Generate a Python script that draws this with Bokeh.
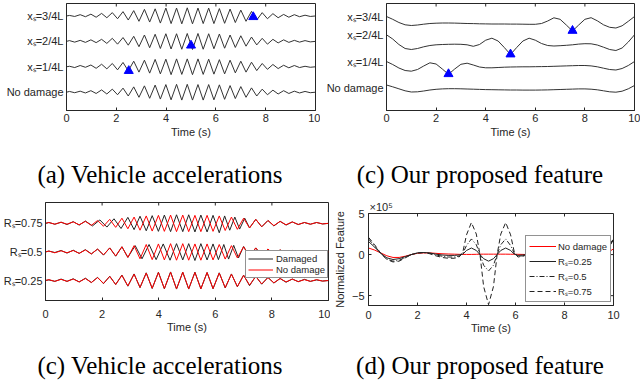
from bokeh.plotting import figure
from bokeh.models import Range1d, FixedTicker, Div, Legend, LegendItem
from bokeh.layouts import column, row
from bokeh.embed import file_html
from bokeh.resources import INLINE

# ---------------- data ----------------
X_TICKS = [0, 2, 4, 6, 8, 10]

# (a) vehicle accelerations, trace values relative to each row
TL_LABELS = ["No damage", "xₛ=1/4L", "xₛ=2/4L", "xₛ=3/4L"]
TL_T = [0.00, 0.12, 0.33, 0.55, 0.76, 0.98, 1.19, 1.41, 1.62, 1.84,
        2.05, 2.27, 2.48, 2.70, 2.91, 3.13, 3.34, 3.56, 3.77, 3.99,
        4.20, 4.42, 4.63, 4.85, 5.06, 5.28, 5.49, 5.71, 5.92, 6.14,
        6.35, 6.57, 6.78, 7.00, 7.21, 7.43, 7.64, 7.86, 8.07, 8.29,
        8.50, 8.72, 8.93, 9.15, 9.36, 9.58, 9.79, 10.00]
TL_ND = [0.00, 0.03, -0.02, 0.04, -0.03, 0.06, -0.05, 0.09, -0.07, 0.12,
         -0.10, 0.16, -0.15, 0.21, -0.20, 0.25, -0.24, 0.28, -0.27, 0.30,
         -0.30, 0.31, -0.31, 0.31, -0.31, 0.30, -0.31, 0.30, -0.30, 0.29,
         -0.28, 0.26, -0.25, 0.22, -0.20, 0.17, -0.15, 0.12, -0.10, 0.08,
         -0.07, 0.06, -0.05, 0.04, -0.03, 0.03, -0.02, 0.00]
TL_D1 = [0.00, 0.02, -0.03, 0.05, -0.02, 0.07, -0.06, 0.10, -0.08, 0.13,
         -0.12, 0.17, -0.16, 0.22, -0.21, 0.26, -0.25, 0.29, -0.28, 0.30,
         -0.31, 0.31, -0.30, 0.31, -0.31, 0.31, -0.30, 0.30, -0.29, 0.28,
         -0.28, 0.26, -0.24, 0.22, -0.21, 0.18, -0.15, 0.13, -0.10, 0.09,
         -0.07, 0.06, -0.04, 0.05, -0.03, 0.02, -0.02, 0.00]
TL_D2 = [0.00, 0.03, -0.03, 0.04, -0.04, 0.06, -0.05, 0.08, -0.08, 0.12,
         -0.11, 0.15, -0.15, 0.20, -0.21, 0.25, -0.25, 0.28, -0.28, 0.30,
         -0.30, 0.30, -0.31, 0.31, -0.32, 0.31, -0.31, 0.30, -0.29, 0.29,
         -0.27, 0.25, -0.24, 0.22, -0.19, 0.17, -0.14, 0.12, -0.11, 0.08,
         -0.06, 0.06, -0.04, 0.04, -0.03, 0.03, -0.02, 0.00]
TL_D3 = [0.00, 0.02, -0.02, 0.05, -0.03, 0.07, -0.05, 0.10, -0.07, 0.13,
         -0.11, 0.17, -0.16, 0.21, -0.21, 0.26, -0.24, 0.28, -0.28, 0.31,
         -0.30, 0.31, -0.31, 0.32, -0.31, 0.31, -0.30, 0.31, -0.30, 0.29,
         -0.29, 0.27, -0.26, 0.23, -0.21, 0.18, -0.16, 0.13, -0.11, 0.09,
         -0.07, 0.06, -0.05, 0.05, -0.03, 0.03, -0.02, 0.00]
TL_MARK_T = [2.5, 5.0, 7.5]
TL_MARK_Y = [1.84, 2.84, 3.96]

# (c) proposed feature (stacked values)
TR_LABELS = ["No damage", "xₛ=1/4L", "xₛ=2/4L", "xₛ=3/4L"]
TR_TICKS = [2.3, 4.9, 7.57, 9.37]
TR_T = [0.0, 0.25, 0.5, 0.75, 1.0, 1.25, 1.5, 1.75, 2.0, 2.25,
        2.5, 2.75, 3.0, 3.25, 3.5, 3.75, 4.0, 4.25, 4.5, 4.75,
        5.0, 5.25, 5.5, 5.75, 6.0, 6.25, 6.5, 6.75, 7.0, 7.25,
        7.5, 7.75, 8.0, 8.25, 8.5, 8.75, 9.0, 9.25, 9.5, 9.75, 10.0]
TR_ND = [2.55, 2.37, 2.17, 1.97, 1.85, 1.87, 1.95, 2.05, 2.12, 2.16,
         2.18, 2.18, 2.17, 2.15, 2.13, 2.11, 2.09, 2.08, 2.07, 2.06,
         2.05, 2.05, 2.04, 2.04, 2.04, 2.05, 2.06, 2.08, 2.10, 2.12,
         2.14, 2.16, 2.16, 2.13, 2.07, 1.97, 1.87, 1.83, 1.93, 2.17, 2.50]
TR_D1 = [4.90, 4.60, 4.25, 4.00, 3.93, 4.10, 4.45, 4.77, 4.65, 4.15,
         3.62, 4.15, 4.62, 4.73, 4.55, 4.35, 4.27, 4.27, 4.30, 4.33,
         4.35, 4.36, 4.37, 4.37, 4.38, 4.39, 4.40, 4.42, 4.44, 4.46,
         4.48, 4.50, 4.50, 4.46, 4.37, 4.23, 4.10, 4.05, 4.20, 4.50, 4.90]
TR_D2 = [7.57, 7.15, 6.60, 6.20, 6.10, 6.20, 6.37, 6.50, 6.57, 6.60,
         6.62, 6.63, 6.62, 6.57, 6.42, 6.60, 7.03, 7.23, 6.95, 6.30,
         5.60, 6.30, 6.95, 7.23, 7.03, 6.70, 6.50, 6.45, 6.48, 6.52,
         6.57, 6.64, 6.68, 6.67, 6.55, 6.33, 6.10, 6.00, 6.25, 6.85, 7.57]
TR_D3 = [9.40, 9.12, 8.80, 8.57, 8.50, 8.55, 8.63, 8.70, 8.73, 8.75,
         8.75, 8.74, 8.72, 8.70, 8.69, 8.67, 8.66, 8.65, 8.65, 8.65,
         8.64, 8.64, 8.63, 8.62, 8.62, 8.70, 8.95, 9.27, 9.12, 8.55,
         7.95, 8.55, 9.12, 9.28, 8.97, 8.57, 8.32, 8.25, 8.47, 8.92, 9.40]
TR_MARK_T = [2.5, 5.0, 7.5]
TR_MARK_Y = [3.65, 5.62, 7.98]

# (c) vehicle accelerations, damaged vs no damage
BL_LABELS = ["Rₛ=0.25", "Rₛ=0.5", "Rₛ=0.75"]
BL_T = [0.00, 0.12, 0.33, 0.55, 0.76, 0.98, 1.19, 1.41, 1.62, 1.84,
        2.05, 2.27, 2.48, 2.70, 2.91, 3.13, 3.34, 3.56, 3.77, 3.99,
        4.20, 4.42, 4.63, 4.85, 5.06, 5.28, 5.49, 5.71, 5.92, 6.14,
        6.35, 6.57, 6.78, 7.00, 7.21, 7.43, 7.64, 7.86, 8.07, 8.29,
        8.50, 8.72, 8.93, 9.15, 9.36, 9.58, 9.79, 10.00]
BL_ND = [0.00, 0.03, -0.03, 0.04, -0.03, 0.05, -0.05, 0.07, -0.07, 0.10,
         -0.10, 0.14, -0.14, 0.18, -0.19, 0.22, -0.24, 0.26, -0.27, 0.28,
         -0.28, 0.29, -0.29, 0.29, -0.29, 0.28, -0.29, 0.28, -0.28, 0.26,
         -0.25, 0.22, -0.21, 0.18, -0.16, 0.14, -0.12, 0.10, -0.08, 0.07,
         -0.05, 0.05, -0.04, 0.03, -0.03, 0.03, -0.02, 0.00]
BL_D25 = [0.00, 0.02, -0.03, 0.05, -0.03, 0.06, -0.05, 0.08, -0.07, 0.11,
          -0.11, 0.15, -0.14, 0.19, -0.20, 0.23, -0.25, 0.27, -0.28, 0.29,
          -0.29, 0.30, -0.30, 0.29, -0.30, 0.29, -0.29, 0.28, -0.29, 0.27,
          -0.26, 0.23, -0.22, 0.19, -0.18, 0.15, -0.13, 0.11, -0.09, 0.07,
          -0.06, 0.05, -0.04, 0.04, -0.03, 0.02, -0.02, 0.00]
BL_T50 = [0.00, 0.12, 0.33, 0.55, 0.76, 0.98, 1.19, 1.41, 1.62, 1.84,
          2.05, 2.27, 2.48, 2.70, 2.91, 3.17, 3.41, 3.66, 3.91, 4.16,
          4.40, 4.63, 4.85, 5.06, 5.28, 5.49, 5.71, 5.92, 6.11, 6.30,
          6.47, 6.65, 6.82, 7.00, 7.21, 7.43, 7.64, 7.86, 8.07, 8.29,
          8.50, 8.72, 8.93, 9.15, 9.36, 9.58, 9.79, 10.00]
BL_D50 = [0.00, 0.03, -0.02, 0.05, -0.04, 0.06, -0.05, 0.08, -0.07, 0.10,
          -0.11, 0.14, -0.15, 0.18, -0.19, 0.22, -0.24, 0.26, -0.27, 0.28,
          -0.29, 0.29, -0.28, 0.29, -0.30, 0.29, -0.28, 0.28, -0.27, 0.26,
          -0.25, 0.23, -0.21, 0.19, -0.17, 0.14, -0.12, 0.10, -0.09, 0.07,
          -0.06, 0.05, -0.04, 0.03, -0.03, 0.03, -0.02, 0.00]
BL_T75 = [0.00, 0.12, 0.33, 0.55, 0.76, 0.98, 1.19, 1.41, 1.66, 1.92,
          2.17, 2.42, 2.67, 2.91, 3.13, 3.34, 3.56, 3.77, 3.99, 4.20,
          4.42, 4.63, 4.85, 5.06, 5.28, 5.49, 5.71, 5.92, 6.14, 6.33,
          6.51, 6.69, 6.86, 7.04, 7.21, 7.43, 7.64, 7.86, 8.07, 8.29,
          8.50, 8.72, 8.93, 9.15, 9.36, 9.58, 9.79, 10.00]
BL_D75 = [0.00, 0.03, -0.03, 0.04, -0.04, 0.06, -0.06, 0.08, -0.09, 0.12,
          -0.13, 0.16, -0.18, 0.21, -0.22, 0.25, -0.26, 0.27, -0.28, 0.29,
          -0.29, 0.30, -0.29, 0.30, -0.30, 0.29, -0.30, 0.28, -0.33, 0.26,
          -0.24, 0.22, -0.20, 0.18, -0.16, 0.14, -0.12, 0.10, -0.09, 0.07,
          -0.06, 0.05, -0.04, 0.03, -0.03, 0.03, -0.02, 0.00]

# (d) normalized feature (x 1e5)
BR_Y_TICKS = [-5, 0, 5]
BR_T = [0.0, 0.25, 0.5, 0.75, 1.0, 1.25, 1.5, 1.75, 2.0, 2.25,
        2.5, 2.75, 3.0, 3.25, 3.5, 3.7, 3.85, 4.0, 4.2, 4.4,
        4.55, 4.7, 4.9, 5.1, 5.25, 5.4, 5.6, 5.8, 5.95, 6.1,
        6.3, 6.5, 7.0, 7.5, 8.0, 8.5, 9.0, 9.25, 9.5, 9.75, 10.0]
BR_ND = [0.8, 0.55, 0.2, -0.15, -0.35, -0.35, -0.2, 0.0, 0.15, 0.2,
         0.2, 0.15, 0.1, 0.07, 0.05, 0.03, 0.02, 0.02, 0.02, 0.03,
         0.05, 0.05, 0.05, 0.05, 0.05, 0.05, 0.05, 0.04, 0.04, 0.03,
         0.02, 0.0, -0.05, -0.1, -0.1, -0.15, -0.35, -0.4, -0.2, 0.2, 0.7]
BR_R25 = [1.6, 0.9, 0.15, -0.4, -0.6, -0.5, -0.25, 0.0, 0.2, 0.25,
          0.2, 0.05, -0.05, -0.1, -0.1, -0.05, 0.05, 0.5, 0.8, 0.5,
          0.0, -0.5, -0.8, -0.5, 0.0, 0.5, 0.8, 0.5, 0.05, -0.1,
          -0.05, 0.0, 0.05, 0.05, 0.0, -0.2, -0.5, -0.6, -0.3, 0.6, 1.8]
BR_R50 = [1.9, 1.05, 0.15, -0.55, -0.8, -0.7, -0.35, 0.0, 0.2, 0.25,
          0.15, -0.05, -0.2, -0.3, -0.3, -0.2, 0.15, 1.1, 1.9, 1.2,
          0.0, -1.3, -2.0, -1.3, 0.0, 1.2, 1.9, 1.1, 0.15, -0.2,
          -0.15, 0.0, 0.05, 0.05, 0.0, -0.25, -0.6, -0.7, -0.35, 0.6, 1.9]
BR_R75 = [2.1, 1.2, 0.15, -0.6, -0.9, -0.8, -0.4, 0.0, 0.2, 0.25,
          0.1, -0.15, -0.35, -0.45, -0.45, -0.3, 0.3, 2.4, 3.9, 2.5,
          0.0, -3.9, -6.1, -3.9, 0.0, 2.5, 3.9, 2.4, 0.3, -0.3,
          -0.2, 0.0, 0.05, 0.05, 0.0, -0.3, -0.7, -0.8, -0.4, 0.6, 2.0]

CAPTIONS = ["(a) Vehicle accelerations", "(c) Our proposed feature",
            "(c) Vehicle accelerations", "(d) Our proposed feature"]

# ---------------- styling helpers ----------------
AX = "#262626"
FONT = "Liberation Sans"
FS = "11px"
TRACE = "#333333"
TICK_PX = 3


def make_fig(w, h, yr, bl, br, bt, bb):
    p = figure(width=w, height=h, x_range=Range1d(0, 10), y_range=Range1d(*yr),
               output_backend="svg", toolbar_location=None,
               min_border_left=bl, min_border_right=br,
               min_border_top=bt, min_border_bottom=bb)
    p.grid.visible = False
    p.outline_line_color = AX
    p.outline_line_width = 1
    p.background_fill_color = "white"
    p.border_fill_color = "white"
    for ax in p.axis:
        ax.axis_line_color = AX
        ax.major_tick_line_color = AX
        ax.minor_tick_line_color = None
        ax.major_tick_out = 0
        ax.major_tick_in = TICK_PX
        ax.major_label_text_font = FONT
        ax.major_label_text_font_size = FS
        ax.major_label_text_color = AX
        ax.axis_label_text_font = FONT
        ax.axis_label_text_font_size = FS
        ax.axis_label_text_font_style = "normal"
        ax.axis_label_text_color = AX
    p.xaxis.ticker = FixedTicker(ticks=X_TICKS)
    p.xaxis.axis_label = "Time (s)"
    # inward tick marks mirrored on the top edge of the box
    frame_h = h - bt - bb
    ticks = X_TICKS[1:-1]
    d = (yr[1] - yr[0]) * TICK_PX / frame_h
    p.segment(x0=ticks, y0=[yr[1]] * len(ticks), x1=ticks, y1=[yr[1] - d] * len(ticks),
              line_color=AX, line_width=1)
    return p


def cat_yaxis(p, ticks, labels, standoff=3):
    p.yaxis.ticker = FixedTicker(ticks=ticks)
    p.yaxis.major_label_overrides = {t: l for t, l in zip(ticks, labels)}
    p.yaxis.major_tick_in = 0
    p.yaxis.major_label_standoff = standoff


def caption(txt, w, h, pad_top, pad_left):
    html = ('<div style="width:%dpx;padding-left:%dpx;text-align:center;'
            "font-family:'Liberation Serif','Times New Roman',serif;"
            'font-size:25px;line-height:30px;padding-top:%dpx;color:#000;'
            'white-space:nowrap">%s</div>' % (w - pad_left, pad_left, pad_top, txt))
    return Div(text=html, width=w, height=h, margin=(0, 0, 0, 0))


# ---------------- (a) ----------------
p1 = make_fig(320, 145, (0.28, 4.49), 66, 5, 3, 35)
cat_yaxis(p1, [1, 2, 3, 4], TL_LABELS)
p1.xaxis.major_label_standoff = 3
p1.xaxis.axis_label_standoff = 1
for off, arr in zip([1, 2, 3, 4], [TL_ND, TL_D1, TL_D2, TL_D3]):
    p1.line(TL_T, [v + off for v in arr], line_color=TRACE, line_width=1)
p1.scatter(TL_MARK_T, TL_MARK_Y, marker="triangle", size=9,
           fill_color="#0000ff", line_color="#0000ff")

# ---------------- (c) top right ----------------
p2 = make_fig(320, 145, (0, 10.7), 66, 6, 3, 35)
cat_yaxis(p2, TR_TICKS, TR_LABELS)
p2.xaxis.major_label_standoff = 3
p2.xaxis.axis_label_standoff = 1
for arr in [TR_ND, TR_D1, TR_D2, TR_D3]:
    p2.line(TR_T, arr, line_color=TRACE, line_width=1)
p2.scatter(TR_MARK_T, TR_MARK_Y, marker="triangle", size=9,
           fill_color="#0000ff", line_color="#0000ff")

# ---------------- (c) bottom left ----------------
p3 = make_fig(330, 155, (0.30, 3.73), 43, 2, 12, 45)
cat_yaxis(p3, [1, 2, 3], BL_LABELS)
p3.xaxis.major_label_standoff = 9
p3.xaxis.axis_label_standoff = 0
blk = None
red = None
for off, tt, arr in zip([1, 2, 3], [BL_T, BL_T50, BL_T75], [BL_D25, BL_D50, BL_D75]):
    blk = p3.line(tt, [v + off for v in arr], line_color="#222222", line_width=1)
    red = p3.line(BL_T, [v + off for v in BL_ND], line_color="#ff0000", line_width=1)
leg3 = Legend(items=[LegendItem(label="Damaged", renderers=[blk]),
                     LegendItem(label="No damage", renderers=[red])],
              location=(200, 22), margin=0, padding=2, spacing=0,
              glyph_width=25, glyph_height=11, label_height=11, label_standoff=3,
              label_text_font=FONT, label_text_font_size="9.5px", label_text_color=AX,
              border_line_color=AX, border_line_width=1,
              background_fill_color="white", background_fill_alpha=1.0)
p3.add_layout(leg3)

# ---------------- (d) ----------------
p4 = make_fig(310, 155, (-6.2, 5.0), 37, 27, 23, 40)
p4.yaxis.ticker = FixedTicker(ticks=BR_Y_TICKS)
p4.yaxis.axis_label = "Normalized Feature"
p4.yaxis.major_label_standoff = 4
p4.yaxis.axis_label_standoff = 3
p4.xaxis.major_label_standoff = 5
p4.xaxis.axis_label_standoff = 0
# inward tick marks mirrored on the right edge of the box
dx = 10 * TICK_PX / (310 - 37 - 27)
p4.segment(x0=[10] * 3, y0=BR_Y_TICKS, x1=[10 - dx] * 3, y1=BR_Y_TICKS,
           line_color=AX, line_width=1)
r_nd = p4.line(BR_T, BR_ND, line_color="#ff0000", line_width=1)
r25 = p4.line(BR_T, BR_R25, line_color="#222222", line_width=1)
r50 = p4.line(BR_T, BR_R50, line_color="#222222", line_width=1, line_dash="5 2 1 2")
r75 = p4.line(BR_T, BR_R75, line_color="#222222", line_width=1, line_dash="5 3")
leg4 = Legend(items=[LegendItem(label="No damage", renderers=[r_nd]),
                     LegendItem(label="Rₛ=0.25", renderers=[r25]),
                     LegendItem(label="Rₛ=0.5", renderers=[r50]),
                     LegendItem(label="Rₛ=0.75", renderers=[r75])],
              location=(157, 3), margin=0, padding=3, spacing=1,
              glyph_width=27, glyph_height=14, label_height=14, label_standoff=2,
              label_text_font=FONT, label_text_font_size="9.5px", label_text_color=AX,
              border_line_color=AX, border_line_width=1,
              background_fill_color="white", background_fill_alpha=1.0)
p4.add_layout(leg4)
p4.title.text = "×10⁵"
p4.title.align = "left"
p4.title.offset = 1
p4.title.standoff = 1
p4.title.text_font = FONT
p4.title.text_font_size = FS
p4.title.text_font_style = "normal"
p4.title.text_color = AX

layout = column(
    row(p1, p2),
    row(caption(CAPTIONS[0], 320, 45, 15, 7), caption(CAPTIONS[1], 320, 45, 15, 0)),
    row(column(p3), column(p4)),
    row(caption(CAPTIONS[2], 320, 38, 6, 7), caption(CAPTIONS[3], 320, 38, 6, 0)),
)

open("out.html", "w").write(file_html(layout, INLINE))
